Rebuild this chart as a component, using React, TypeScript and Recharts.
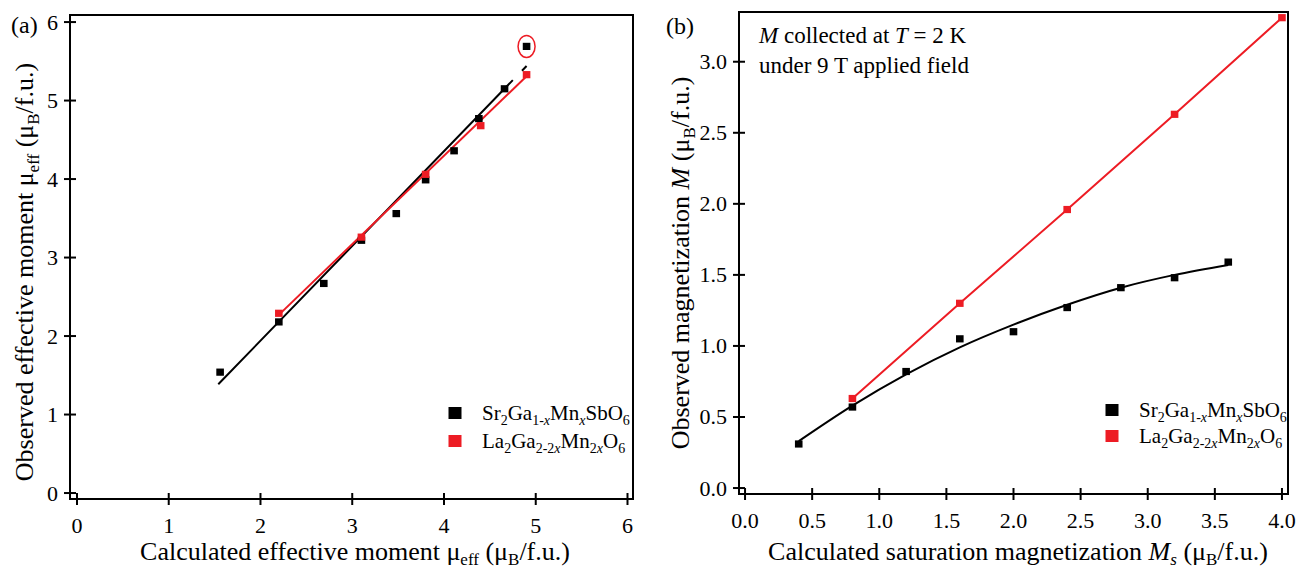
import React from 'react';
import {
  ComposedChart,
  Line,
  ReferenceArea,
  ReferenceDot,
  Scatter,
  XAxis,
  YAxis,
} from 'recharts';

const RED = '#ed1c24';
const FONT = '"Liberation Serif", "Times New Roman", serif';

// panel (a): effective moments
const aTicks = [0, 1, 2, 3, 4, 5, 6];
const aSrCalc = [1.56, 2.2, 2.69, 3.1, 3.48, 3.8, 4.11, 4.38, 4.66, 4.9];
const aSrObs = [1.54, 2.18, 2.67, 3.22, 3.56, 3.99, 4.36, 4.77, 5.15, 5.69];
const aLaCalc = [2.2, 3.1, 3.8, 4.4, 4.9];
const aLaObs = [2.29, 3.26, 4.06, 4.68, 5.33];
const aSrFitX = [1.54, 4.75, 4.8, 4.85, 4.9];
const aSrFitY = [1.385, 5.26, null, 5.38, 5.44];
const aLaFitX = [2.2, 4.9];
const aLaFitY = [2.27, 5.31];
const aOutlier = {x: 4.9, y: 5.69};

// panel (b): magnetization at 2 K, 9 T
const bXTicks = [0, 0.5, 1, 1.5, 2, 2.5, 3, 3.5, 4];
const bYTicks = [0, 0.5, 1, 1.5, 2, 2.5, 3];
const bSrCalc = [0.4, 0.8, 1.2, 1.6, 2.0, 2.4, 2.8, 3.2, 3.6];
const bSrObs = [0.31, 0.57, 0.82, 1.05, 1.1, 1.27, 1.41, 1.48, 1.59];
const bSrFit = [0.33, 0.58, 0.8, 0.99, 1.15, 1.29, 1.41, 1.5, 1.57];
const bLaCalc = [0.8, 1.6, 2.4, 3.2, 4.0];
const bLaObs = [0.63, 1.3, 1.96, 2.63, 3.31];

const pts = (xs: number[], ys: (number | null)[]) =>
  xs.map((x, i) => ({x, y: ys[i]}));

const makeXTick = (fmt: (v: number) => string) => (props: any) => {
  const {x, y, payload} = props;
  return (
    <g>
      <line x1={x} x2={x} y1={y - 6} y2={y + 6} stroke="#000" strokeWidth={2} />
      <text x={x} y={y + 34} textAnchor="middle" fontFamily={FONT} fontSize={22} fill="#000">
        {fmt(payload.value)}
      </text>
    </g>
  );
};

const makeYTick = (fmt: (v: number) => string) => (props: any) => {
  const {x, y, payload} = props;
  return (
    <g>
      <line x1={x - 6} x2={x + 6} y1={y} y2={y} stroke="#000" strokeWidth={2} />
      <text x={x - 12} y={y + 7.5} textAnchor="end" fontFamily={FONT} fontSize={22} fill="#000">
        {fmt(payload.value)}
      </text>
    </g>
  );
};

const intFmt = (v: number) => String(v);
const oneDec = (v: number) => v.toFixed(1);

// segments: [text, flags] where flag 1 = subscript, 2 = italic
type Seg = [string, number?];
function rich(segs: Seg[], subSize: number, shift: number) {
  let cur = 0;
  return segs.map(([t, f = 0], i) => {
    const target = f & 1 ? shift : 0;
    const dy = target - cur;
    cur = target;
    return (
      <tspan
        key={i}
        dy={dy}
        fontSize={f & 1 ? subSize : undefined}
        fontStyle={f & 2 ? 'italic' : undefined}>
        {t}
      </tspan>
    );
  });
}

const srName: Seg[] = [['Sr'], ['2', 1], ['Ga'], ['1-', 1], ['x', 3], ['Mn'], ['x', 3], ['SbO'], ['6', 1]];
const laName: Seg[] = [['La'], ['2', 1], ['Ga'], ['2-2', 1], ['x', 3], ['Mn'], ['2', 1], ['x', 3], ['O'], ['6', 1]];

const Sq = (props: any) => {
  const {cx, cy, fill} = props;
  if (cx == null || cy == null) return null;
  return <rect x={cx - 3.8} y={cy - 3.6} width={7.6} height={7.2} fill={fill} />;
};

const Legend = ({x, y1, y2}: {x: number; y1: number; y2: number}) => (
  <g fontFamily={FONT} fontSize={21} fill="#000">
    <rect x={x - 6.5} y={y1 - 6} width={13} height={12} fill="#000" />
    <rect x={x - 6.5} y={y2 - 6} width={13} height={12} fill={RED} />
    <text x={x + 27} y={y1 + 7}>{rich(srName, 14, 5)}</text>
    <text x={x + 27} y={y2 + 7}>{rich(laName, 14, 5)}</text>
  </g>
);

export default function App() {
  return (
    <div style={{position: 'absolute', left: 0, top: 0, width: 1298, height: 571, background: '#fff'}}>
      <div style={{position: 'absolute', left: 0, top: 0}}>
        <ComposedChart width={640} height={571} margin={{top: 15, left: 10, right: 7, bottom: 12}}>
          <XAxis
            dataKey="x"
            type="number"
            domain={[-0.076, 6.06]}
            allowDataOverflow
            ticks={aTicks}
            interval={0}
            axisLine={false}
            tickLine={false}
            tickSize={0}
            tickMargin={0}
            height={60}
            tick={makeXTick(intFmt)}
          />
          <YAxis
            dataKey="y"
            type="number"
            domain={[-0.076, 6.09]}
            allowDataOverflow
            ticks={aTicks}
            interval={0}
            axisLine={false}
            tickLine={false}
            tickSize={0}
            tickMargin={0}
            width={60}
            tick={makeYTick(intFmt)}
          />
          <ReferenceArea x1={-0.076} x2={6.06} y1={-0.076} y2={6.09} fill="none" stroke="#000" strokeWidth={2} />
          <Line data={pts(aSrFitX, aSrFitY)} dataKey="y" stroke="#000" strokeWidth={2} dot={false} isAnimationActive={false} />
          <Line data={pts(aLaFitX, aLaFitY)} dataKey="y" stroke={RED} strokeWidth={2} dot={false} isAnimationActive={false} />
          <Scatter data={pts(aSrCalc, aSrObs)} dataKey="y" fill="#000" shape={Sq} isAnimationActive={false} />
          <Scatter data={pts(aLaCalc, aLaObs)} dataKey="y" fill={RED} shape={Sq} isAnimationActive={false} />
          <ReferenceDot
            x={aOutlier.x}
            y={aOutlier.y}
            shape={(p: any) => (
              <ellipse cx={p.cx} cy={p.cy} rx={8.5} ry={11} fill="none" stroke={RED} strokeWidth={1.5} />
            )}
          />
        </ComposedChart>
      </div>
      <div style={{position: 'absolute', left: 640, top: 0}}>
        <ComposedChart width={658} height={571} margin={{top: 12, left: 39, right: 10, bottom: 17}}>
          <XAxis
            dataKey="x"
            type="number"
            domain={[-0.045, 4.045]}
            allowDataOverflow
            ticks={bXTicks}
            interval={0}
            axisLine={false}
            tickLine={false}
            tickSize={0}
            tickMargin={0}
            height={60}
            tick={makeXTick(oneDec)}
          />
          <YAxis
            dataKey="y"
            type="number"
            domain={[-0.042, 3.35]}
            allowDataOverflow
            ticks={bYTicks}
            interval={0}
            axisLine={false}
            tickLine={false}
            tickSize={0}
            tickMargin={0}
            width={60}
            tick={makeYTick(oneDec)}
          />
          <ReferenceArea x1={-0.045} x2={4.045} y1={-0.042} y2={3.35} fill="none" stroke="#000" strokeWidth={2} />
          <Line data={pts(bSrCalc, bSrFit)} type="monotone" dataKey="y" stroke="#000" strokeWidth={2} dot={false} isAnimationActive={false} />
          <Line data={pts(bLaCalc, bLaObs)} dataKey="y" stroke={RED} strokeWidth={2} dot={false} isAnimationActive={false} />
          <Scatter data={pts(bSrCalc, bSrObs)} dataKey="y" fill="#000" shape={Sq} isAnimationActive={false} />
          <Scatter data={pts(bLaCalc, bLaObs)} dataKey="y" fill={RED} shape={Sq} isAnimationActive={false} />
        </ComposedChart>
      </div>
      <svg
        width={1298}
        height={571}
        style={{position: 'absolute', left: 0, top: 0, pointerEvents: 'none'}}
        fontFamily={FONT}
        fill="#000">
        <text x={11} y={33} fontSize={24}>(a)</text>
        <text x={666} y={34} fontSize={24}>(b)</text>
        <text x={355} y={560} fontSize={26} textAnchor="middle">
          {rich([['Calculated effective moment μ'], ['eff', 1], [' (μ'], ['B', 1], ['/f.u.)']], 17, 5)}
        </text>
        <text x={33} y={272} fontSize={26} textAnchor="middle" transform="rotate(-90 33 272)">
          {rich([['Observed effective moment μ'], ['eff', 1], [' (μ'], ['B', 1], ['/f.u.)']], 17, 6)}
        </text>
        <text x={1018} y={560} fontSize={26} textAnchor="middle">
          {rich([['Calculated saturation magnetization '], ['M', 2], ['s', 3], [' (μ'], ['B', 1], ['/f.u.)']], 17, 5)}
        </text>
        <text x={689} y={263} fontSize={26} textAnchor="middle" transform="rotate(-90 689 263)">
          {rich([['Observed magnetization '], ['M', 2], [' (μ'], ['B', 1], ['/f.u.)']], 17, 6)}
        </text>
        <text x={759} y={43} fontSize={23}>
          {rich([['M', 2], [' collected at '], ['T', 2], [' = 2 K']], 15, 5)}
        </text>
        <text x={759} y={73} fontSize={23}>under 9 T applied field</text>
        <Legend x={455} y1={413} y2={441} />
        <Legend x={1112} y1={410} y2={436} />
      </svg>
    </div>
  );
}
